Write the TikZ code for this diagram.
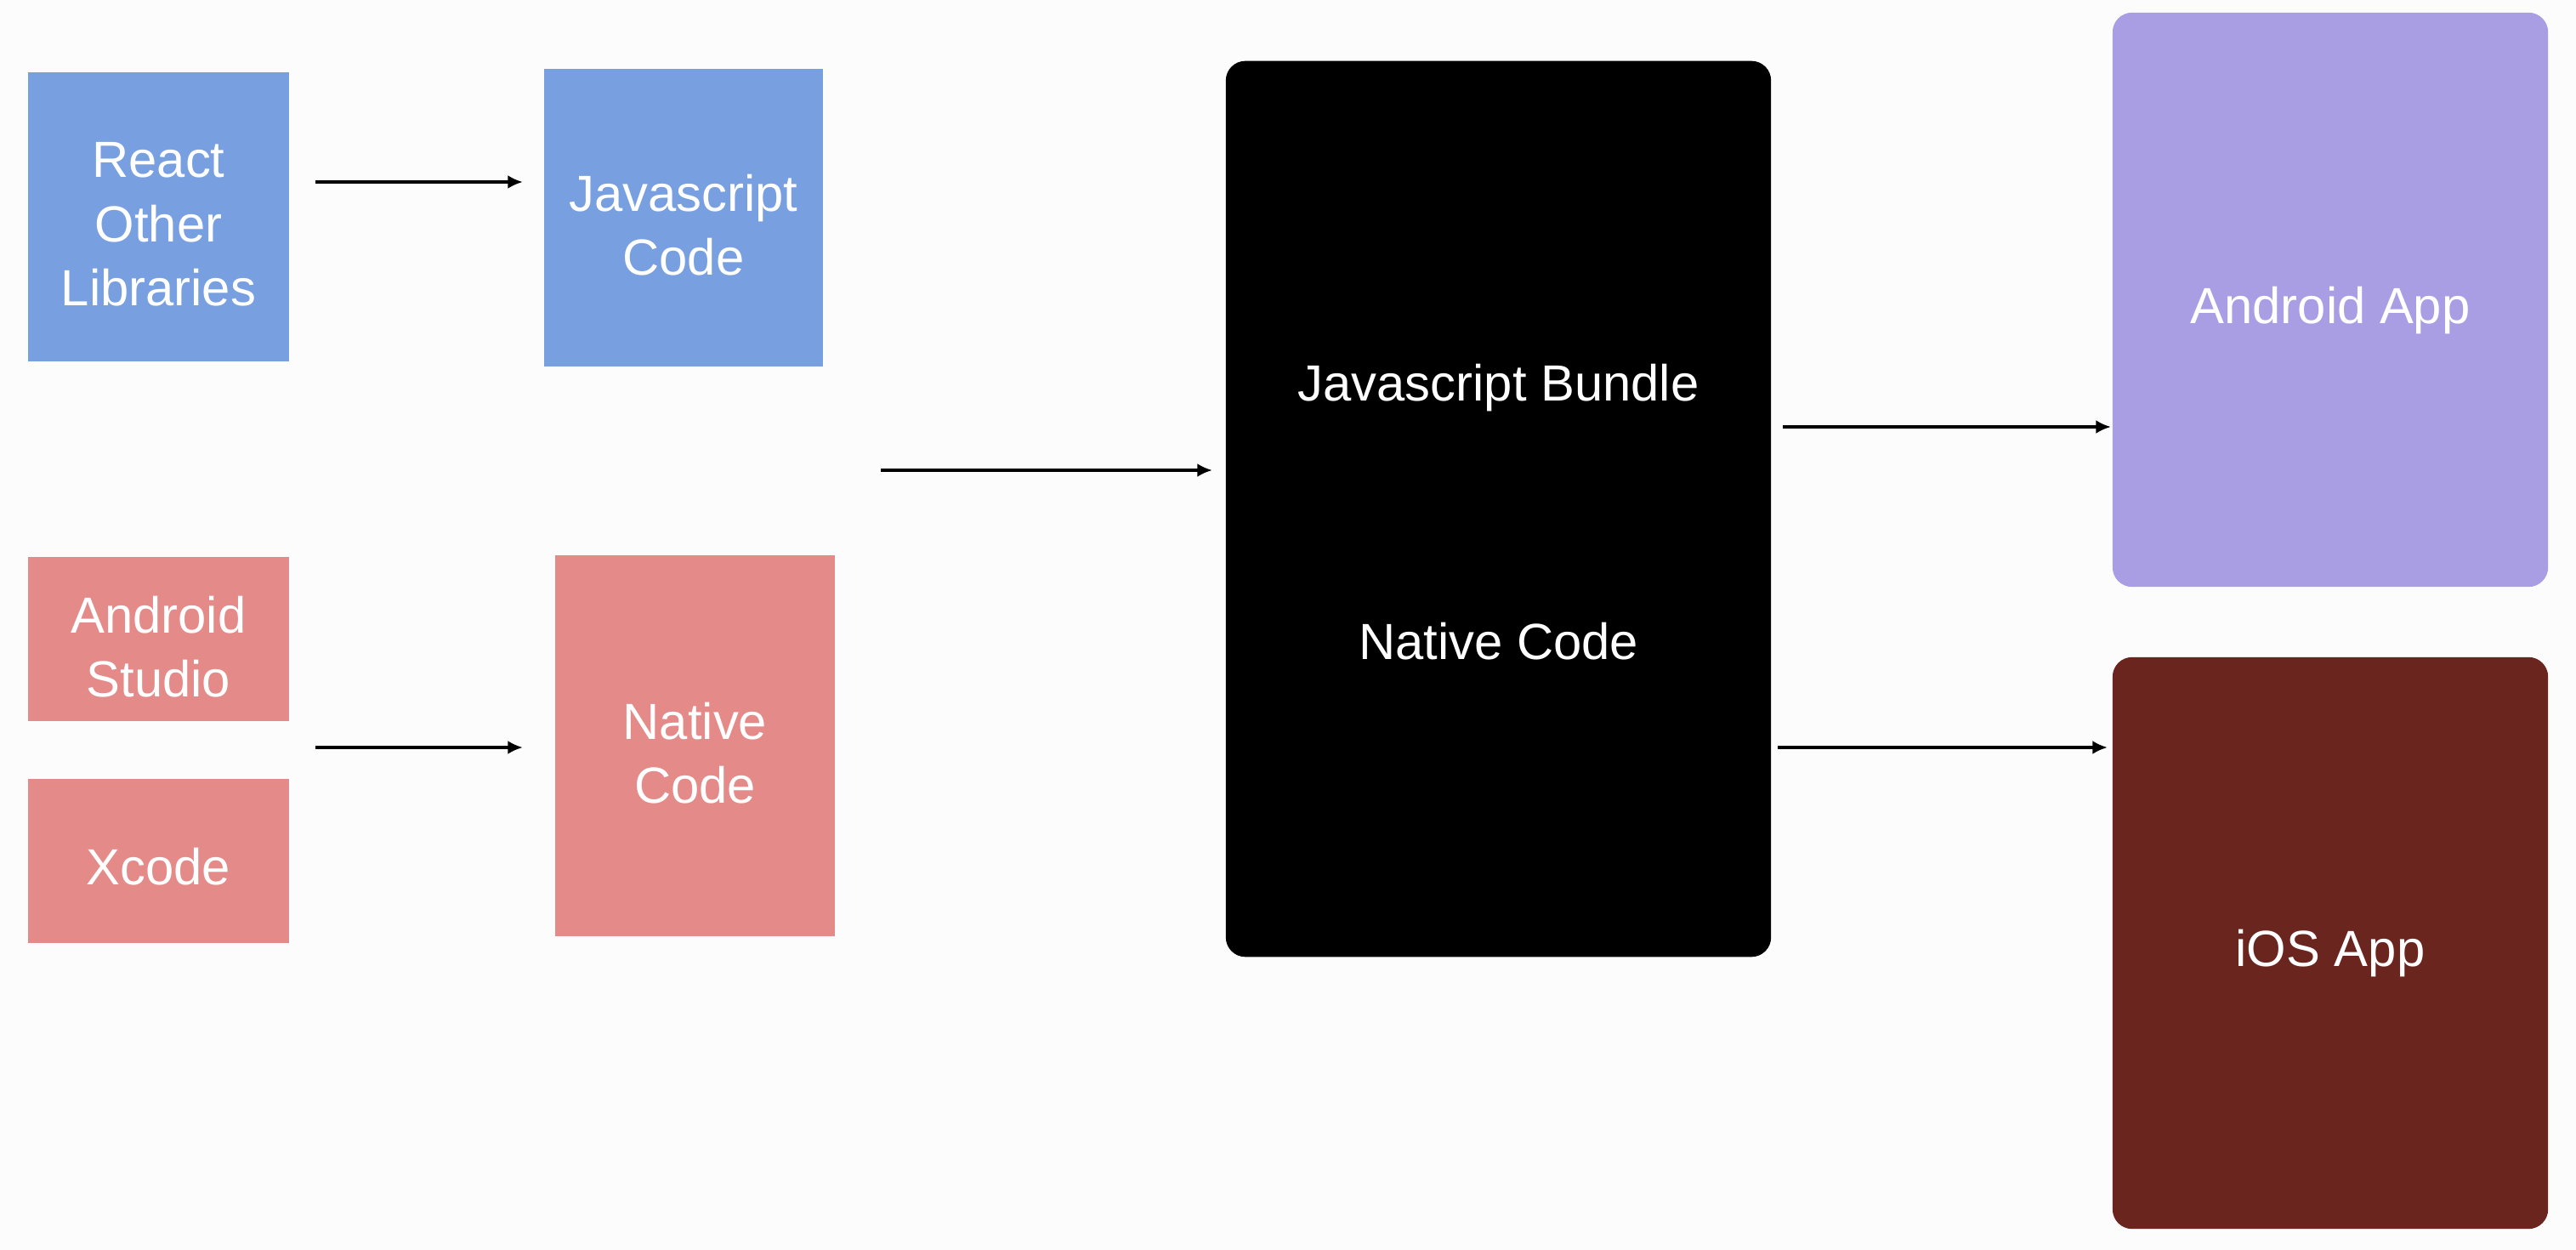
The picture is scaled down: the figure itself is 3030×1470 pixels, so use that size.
\documentclass[tikz,border=0pt]{standalone}
\usepackage{fontspec}
\setmainfont{Liberation Sans}
\usetikzlibrary{arrows.meta}
\definecolor{bgc}{RGB}{253,252,253}
\definecolor{jsblue}{RGB}{120,159,224}
\definecolor{natpink}{RGB}{228,138,136}
\definecolor{andpurple}{RGB}{169,157,227}
\definecolor{iosred}{RGB}{107,37,31}
\begin{document}
\begin{tikzpicture}[x=0.01cm,y=-0.01cm,
  box/.style={inner sep=0pt},
  rbox/.style={box, rounded corners=0.23cm},
  lbl/.style={inner sep=0pt, text=white, align=center, font=\fontsize{17}{21.4}\selectfont},
  arr/.style={line width=1.1pt, -{Latex[length=5pt,width=4.5pt]}}]
\fill[bgc] (0,0) rectangle (3030,1470);
\useasboundingbox (0,0) rectangle (3030,1470);
% left column
\node[box, fill=jsblue, minimum width=3.07cm, minimum height=3.40cm,
  label={[lbl,yshift=-2.5pt]center:React\\Other\\Libraries}] (react) at (186.5,255) {};
\node[box, fill=natpink, minimum width=3.07cm, minimum height=1.93cm,
  label={[lbl,yshift=-2.5pt]center:Android\\Studio}] (studio) at (186.5,751.5) {};
\node[box, fill=natpink, minimum width=3.07cm, minimum height=1.93cm,
  label={[lbl,yshift=-2pt]center:Xcode}] (xcode) at (186.5,1012.5) {};
% second column
\node[box, fill=jsblue, minimum width=3.28cm, minimum height=3.50cm,
  label={[lbl,yshift=-2.5pt]center:Javascript\\Code}] (jscode) at (804,256) {};
\node[box, fill=natpink, minimum width=3.29cm, minimum height=4.48cm,
  label={[lbl,yshift=-2.5pt]center:Native\\Code}] (natcode) at (817.5,877) {};
% bundle
\node[rbox, fill=black, minimum width=6.41cm, minimum height=10.53cm,
  label={[lbl,yshift=-1pt]center:Javascript Bundle\\[65pt]Native Code}] (bundle) at (1762.5,598.5) {};
% apps
\node[rbox, fill=andpurple, minimum width=5.12cm, minimum height=6.75cm,
  label={[lbl,yshift=-3.5pt]center:Android App}] (android) at (2741,352.5) {};
\node[rbox, fill=iosred, minimum width=5.12cm, minimum height=6.72cm,
  label={[lbl,yshift=-3.5pt]center:iOS App}] (ios) at (2741,1109) {};
% arrow ends
\coordinate (a1s) at (371,214);
\coordinate (a1e) at (615,214);
\coordinate (a2s) at (371,879);
\coordinate (a2e) at (615,879);
\coordinate (a3s) at (1036,553);
\coordinate (a3e) at (1426,553);
\coordinate (a4s) at (2097,502);
\coordinate (a4e) at (2483,502);
\coordinate (a5s) at (2091,879);
\coordinate (a5e) at (2479,879);
\draw[arr] (a1s) -- (a1e);
\draw[arr] (a2s) -- (a2e);
\draw[arr] (a3s) -- (a3e);
\draw[arr] (a4s) -- (a4e);
\draw[arr] (a5s) -- (a5e);
\end{tikzpicture}
\end{document}
